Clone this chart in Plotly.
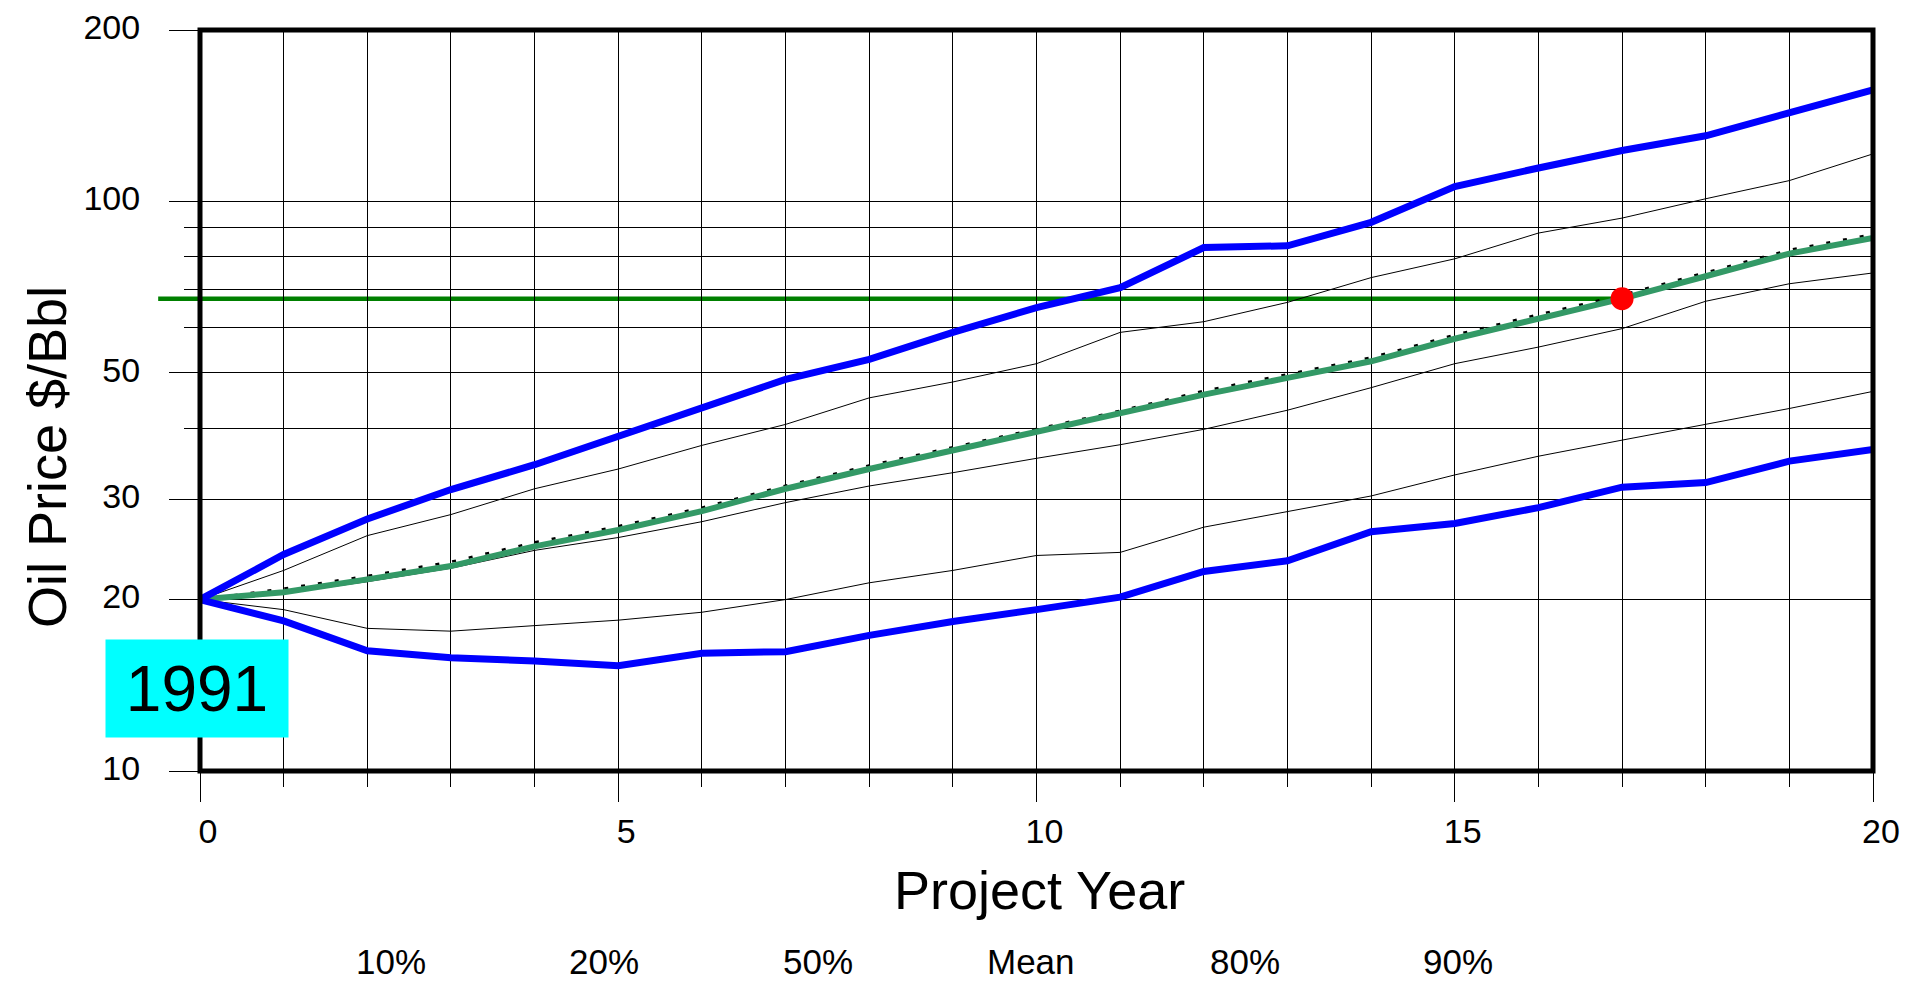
import math
import plotly.graph_objects as go

# Project years on the horizontal axis
years = list(range(0, 21))

# Simulated oil price paths, $/Bbl, one value per project year
high_band = [20, 24.0, 27.7, 31.2, 34.5, 38.7, 43.4, 48.7, 52.8, 58.9, 65.1,
             70.6, 83.0, 83.6, 91.9, 106.2, 114.5, 122.9, 130.4, 142.9, 157.0]
pct80 = [20, 22.5, 25.9, 28.2, 31.3, 33.9, 37.3, 40.6, 45.2, 48.2, 51.9,
         58.9, 61.5, 66.5, 73.5, 79.3, 88.0, 93.5, 101.1, 108.8, 121.2]
mean_path = [20, 20.9, 22.0, 23.3, 25.2, 26.9, 29.0, 31.7, 34.4, 37.0, 39.9,
             42.9, 46.5, 49.7, 53.2, 58.3, 63.3, 68.5, 75.0, 82.2, 87.6]
pct50 = [20, 20.6, 21.7, 22.9, 24.8, 26.5, 28.6, 31.3, 33.9, 36.5, 39.3,
         42.3, 45.8, 49.0, 52.4, 57.4, 62.4, 67.5, 73.9, 81.0, 86.3]
lower_mid = [20, 20.5, 21.5, 22.7, 24.4, 25.7, 27.4, 29.6, 31.65, 33.4, 35.4,
             37.4, 39.8, 43.0, 47.1, 51.9, 55.5, 59.8, 66.8, 71.7, 74.9]
pct20 = [20, 19.2, 17.8, 17.6, 18.0, 18.4, 19.0, 20.0, 21.4, 22.5, 23.9,
         24.2, 26.8, 28.5, 30.4, 33.1, 35.7, 38.1, 40.6, 43.3, 46.4]
low_band = [20, 18.35, 16.26, 15.8, 15.6, 15.3, 16.1, 16.2, 17.3, 18.3, 19.2,
            20.2, 22.4, 23.4, 26.3, 27.2, 29.0, 31.5, 32.1, 35.0, 36.7]

# Year at which the median path is highlighted
marker_year = 17
marker_price = pct50[years.index(marker_year)]

# Axis ticks
x_major = [0, 5, 10, 15, 20]
x_minor = [y for y in years if y not in x_major]
y_major = [10, 20, 30, 50, 100, 200]
y_minor = [40, 60, 70, 80, 90]
x_range = [0, 20]
y_range = [10, 200]

legend_labels = ["10%", "20%", "50%", "Mean", "80%", "90%"]
start_year = "1991"

FONT = "Arial, 'Liberation Sans', sans-serif"
BLUE = "#0000FF"
SEA_GREEN = "#339966"
DARK_GREEN = "#008000"

fig = go.Figure()

thin = dict(color="black", width=1)
fig.add_trace(go.Scatter(x=years, y=pct20, mode="lines", line=thin, name="20%"))
fig.add_trace(go.Scatter(x=years, y=lower_mid, mode="lines", line=thin, name="lower"))
fig.add_trace(go.Scatter(x=years, y=pct80, mode="lines", line=thin, name="80%"))
fig.add_trace(go.Scatter(x=years, y=mean_path, mode="lines",
                         line=dict(color="black", width=2.5, dash="4px,13px"),
                         name="Mean"))
fig.add_trace(go.Scatter(x=years, y=pct50, mode="lines",
                         line=dict(color=SEA_GREEN, width=6), name="50%"))
fig.add_trace(go.Scatter(x=years, y=low_band, mode="lines",
                         line=dict(color=BLUE, width=7), name="10%"))
fig.add_trace(go.Scatter(x=years, y=high_band, mode="lines",
                         line=dict(color=BLUE, width=7), name="90%"))
fig.add_trace(go.Scatter(x=[marker_year], y=[marker_price], mode="markers",
                         marker=dict(color="#FF0000", size=23, line=dict(width=0)),
                         cliponaxis=False, name="marker"))

# Horizontal reference line at the highlighted price, running past the left edge
fig.add_shape(type="line", xref="paper", yref="y",
              x0=-0.025, x1=(marker_year - x_range[0]) / (x_range[1] - x_range[0]),
              y0=marker_price, y1=marker_price,
              line=dict(color=DARK_GREEN, width=4.5), layer="between")

# Heavy frame around the plotting area
fig.add_shape(type="rect", xref="paper", yref="paper", x0=0, x1=1, y0=0, y1=1,
              line=dict(color="black", width=5), layer="above")

annotations = []
# Axis titles
annotations.append(dict(text="Oil Price $/Bbl", xref="paper", yref="paper",
                        x=(47 - 200) / 1673, y=(771 - 457) / 741,
                        xanchor="center", yanchor="middle", textangle=-90,
                        showarrow=False, font=dict(family=FONT, size=54, color="black")))
annotations.append(dict(text="Project Year", xref="paper", yref="paper",
                        x=(1039 - 200) / 1673, y=(771 - 890) / 741,
                        xanchor="center", yanchor="middle",
                        showarrow=False, font=dict(family=FONT, size=54, color="black")))
# Start-year badge
annotations.append(dict(text=start_year, xref="paper", yref="paper",
                        x=(197 - 200) / 1673, y=(771 - 688.5) / 741,
                        xanchor="center", yanchor="middle", width=182, height=97,
                        bgcolor="#00FFFF", borderpad=0, showarrow=False,
                        font=dict(family=FONT, size=64, color="black")))
# Series labels along the bottom
for i, lab in enumerate(legend_labels):
    annotations.append(dict(text=lab, xref="paper", yref="paper",
                            x=(391 + i * 213.4 - 200) / 1673, y=(771 - 962) / 741,
                            xanchor="center", yanchor="middle", showarrow=False,
                            font=dict(family=FONT, size=35, color="black")))

fig.update_layout(
    width=1905, height=985,
    margin=dict(l=200, r=32, t=30, b=214, pad=0),
    paper_bgcolor="white", plot_bgcolor="white",
    showlegend=False,
    font=dict(family=FONT, size=34, color="black"),
    annotations=annotations,
)

fig.update_xaxes(
    range=x_range, tickmode="array", tickvals=x_major,
    ticktext=[str(v) for v in x_major], automargin=False,
    ticks="outside", ticklen=30, tickwidth=1, tickcolor="black",
    showgrid=True, gridcolor="black", gridwidth=1,
    showline=False, zeroline=False,
    tickfont=dict(family=FONT, size=34, color="black"),
    ticklabelshift=8, ticklabelstandoff=0,
    minor=dict(tickmode="array", tickvals=x_minor, ticks="outside", ticklen=15,
               tickwidth=1, tickcolor="black", showgrid=True,
               gridcolor="black", gridwidth=1),
)
fig.update_yaxes(
    type="log", range=[math.log10(y_range[0]), math.log10(y_range[1])],
    tickmode="array", tickvals=y_major, ticktext=[str(v) for v in y_major],
    automargin=False,
    ticks="outside", ticklen=30, tickwidth=1, tickcolor="black",
    showgrid=True, gridcolor="black", gridwidth=1,
    showline=False, zeroline=False,
    tickfont=dict(family=FONT, size=34, color="black"),
    ticklabelshift=-3, ticklabelstandoff=22,
    minor=dict(tickmode="array", tickvals=y_minor, ticks="outside", ticklen=15,
               tickwidth=1, tickcolor="black", showgrid=True,
               gridcolor="black", gridwidth=1),
)

fig.write_html("out.html")
